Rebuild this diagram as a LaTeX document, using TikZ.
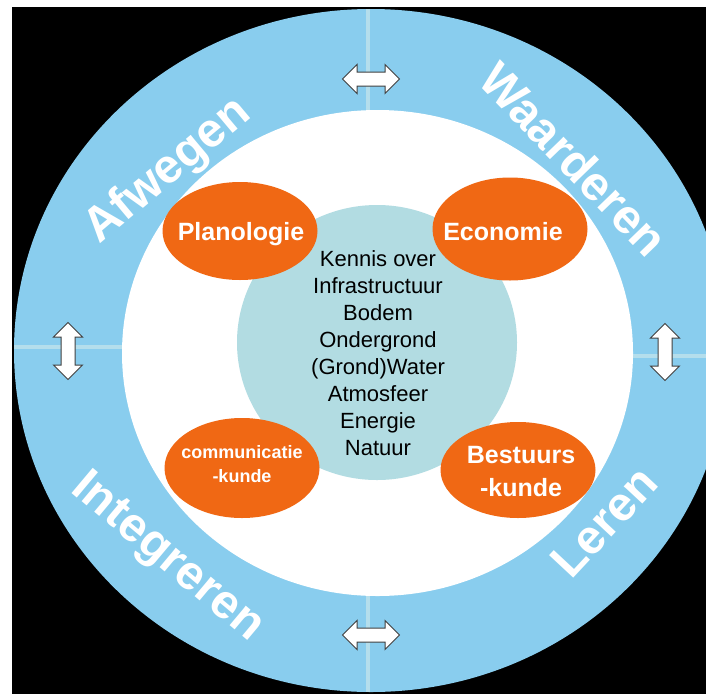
\documentclass[tikz,border=0pt]{standalone}
\usepackage{fontspec}
\setmainfont{Liberation Sans}
\usetikzlibrary{shapes.geometric,shapes.arrows}
\definecolor{ringblue}{RGB}{137,205,238}
\definecolor{coreteal}{RGB}{178,220,226}
\definecolor{bloborange}{RGB}{240,104,20}
\definecolor{seamblue}{RGB}{180,222,236}
\begin{document}
\begin{tikzpicture}[x=1pt, y=-1pt,
  ring/.style={ellipse, inner sep=0pt},
  blob/.style={ellipse, fill=bloborange, inner sep=0pt, minimum width=155pt},
  blobtext/.style={text=white, align=center},
  ringword/.style={text=white, font=\bfseries\fontsize{48}{48}\selectfont, inner sep=0pt},
  twoway/.style={double arrow, draw=black!75, line width=1pt, fill=white, inner xsep=0pt, inner ysep=6.5pt,
    minimum height=57pt, minimum width=28pt, double arrow head extend=7.5pt},
  seam/.style={seamblue, line width=3.5pt}]
  % achtergrond
  \useasboundingbox (0,0) rectangle (706,694);
  \fill[white] (0,0) rectangle (706,694);
  \fill[black] (12,7) rectangle (706,694);

  % buitenring
  \node[ring, fill=ringblue, minimum width=714pt, minimum height=683pt] (outer) at (371,350.5) {};
  \draw[seam] (368,9) -- (368,112);
  \draw[seam] (368,594) -- (368,692);
  \draw[seam] (14,347) -- (124,347);
  \draw[seam] (631,356) -- (706,356);

  % binnenring en kern
  \node[ring, fill=white, minimum width=511pt, minimum height=486pt] (inner) at (377.5,353) {};
  \node[ring, fill=coreteal, minimum width=280pt, minimum height=275pt] (core) at (377,342.5) {};

  % disciplines
  \node[blob, minimum height=98pt] (plan) at (240,231) {};
  \node[blob, minimum height=103pt] (econ) at (510,229) {};
  \node[blob, minimum height=100pt] (comm) at (242,468) {};
  \node[blob, minimum height=96pt] (best) at (518,470) {};
  \node[blobtext, font=\bfseries\fontsize{25}{33}\selectfont] at (241,234) {Planologie};
  \node[blobtext, font=\bfseries\fontsize{25}{33}\selectfont] at (503,232) {Economie};
  \node[blobtext, font=\bfseries\fontsize{18}{24}\selectfont] at (242,464) {communicatie\\-kunde};
  \node[blobtext, font=\bfseries\fontsize{25}{33}\selectfont] at (521,472) {Bestuurs\\-kunde};

  % kennis
  \node[font=\fontsize{22}{27}\selectfont, align=center] (kennis) at (378,353)
    {Kennis over\\Infrastructuur\\Bodem\\Ondergrond\\(Grond)Water\\Atmosfeer\\Energie\\Natuur};

  % woorden op de ring
  \node[ringword, rotate=40] (afwegen) at (168,171) {Afwegen};
  \node[ringword, rotate=-46] (waarderen) at (574,159) {Waarderen};
  \node[ringword, rotate=-40] (integreren) at (167,558) {Integreren};
  \node[ringword, rotate=47] (leren) at (604,522) {Leren};

  % pijlen
  \node[twoway] (boven) at (371,79) {};
  \node[twoway] (onder) at (371,635) {};
  \node[twoway, rotate=90] (links) at (68,351) {};
  \node[twoway, rotate=90] (rechts) at (665,352) {};
\end{tikzpicture}
\end{document}
